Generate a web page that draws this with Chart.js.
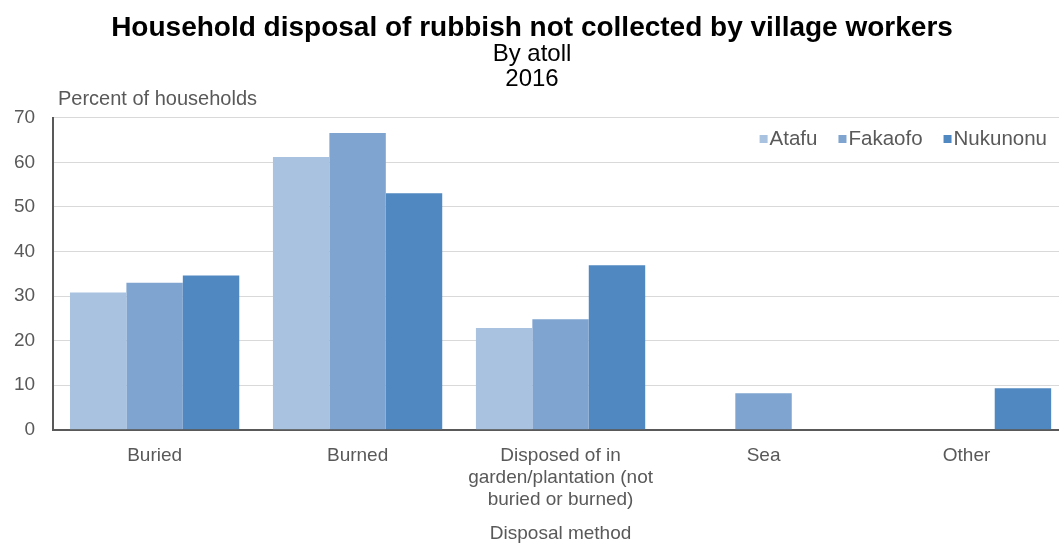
<!DOCTYPE html>
<html>
<head>
<meta charset="utf-8">
<script src="https://cdn.jsdelivr.net/npm/chart.js@4/dist/chart.umd.min.js"></script>
<style>
  html, body { margin: 0; padding: 0; background: #fff; overflow: hidden; }
  #wrap { width: 1068px; height: 545px; }
</style>
</head>
<body>
<div id="wrap"><canvas id="chart"></canvas></div>
<script>
const categories = ['Buried', 'Burned', ['Disposed of in', 'garden/plantation (not', 'buried or burned)'], 'Sea', 'Other'];
const atafu = [30.8, 61.2, 22.8, null, null];
const fakaofo = [33.0, 66.6, 24.8, 8.2, null];
const nukunonu = [34.6, 53.1, 36.9, null, 9.3];

const font = "'Liberation Sans', Arial, sans-serif";
const grey = '#595959';

// unit label above the y axis + legend inside the plot, top right
const extras = {
  id: 'extras',
  afterDraw(chart) {
    const ctx = chart.ctx;
    ctx.save();
    ctx.font = '20px ' + font;
    ctx.fillStyle = grey;
    ctx.textBaseline = 'middle';
    ctx.textAlign = 'left';
    ctx.fillText('Percent of households', 58, 99);

    ctx.font = '20.5px ' + font;
    const sets = chart.data.datasets;
    let x = 1047;
    const y = 139;
    for (let i = sets.length - 1; i >= 0; i--) {
      const w = ctx.measureText(sets[i].label).width;
      x -= w;
      ctx.fillStyle = grey;
      ctx.fillText(sets[i].label, x, y);
      x -= 10;
      ctx.fillStyle = sets[i].backgroundColor;
      ctx.fillRect(x, y - 4, 8, 8);
      x -= 21;
    }
    ctx.restore();
  }
};

new Chart(document.getElementById('chart'), {
  type: 'bar',
  data: {
    labels: categories,
    datasets: [
      { label: 'Atafu', data: atafu, backgroundColor: '#a8c2df' },
      { label: 'Fakaofo', data: fakaofo, backgroundColor: '#7fa4cf' },
      { label: 'Nukunonu', data: nukunonu, backgroundColor: '#5088c1' }
    ]
  },
  options: {
    responsive: true,
    maintainAspectRatio: false,
    animation: false,
    layout: { padding: { top: 14, right: 0, left: -4, bottom: 0 } },
    datasets: { bar: { categoryPercentage: 0.834, barPercentage: 1.0 } },
    plugins: {
      title: {
        display: true,
        text: 'Household disposal of rubbish not collected by village workers',
        font: { family: font, size: 28, weight: 'bold', lineHeight: 1.0 },
        color: '#000',
        padding: { top: 0, bottom: 0 }
      },
      subtitle: {
        display: true,
        text: ['By atoll', '2016'],
        font: { family: font, size: 24, lineHeight: 1.04 },
        color: '#000',
        padding: { top: 0, bottom: 26 }
      },
      legend: { display: false },
      tooltip: { enabled: false }
    },
    scales: {
      x: {
        grid: { display: false },
        border: { color: '#595959', width: 2 },
        ticks: { color: grey, font: { family: font, size: 19, lineHeight: 1.15 }, padding: 7, maxRotation: 0, autoSkip: false },
        title: { display: true, text: 'Disposal method', color: grey, font: { family: font, size: 19, lineHeight: 1.2 }, padding: { top: 5, bottom: 0 } }
      },
      y: {
        min: 0,
        max: 70,
        ticks: { stepSize: 10, color: grey, font: { family: font, size: 19 }, padding: 18 },
        grid: { color: '#d9d9d9', drawTicks: false },
        border: { color: '#595959', width: 2 }
      }
    }
  },
  plugins: [extras]
});
</script>
</body>
</html>
